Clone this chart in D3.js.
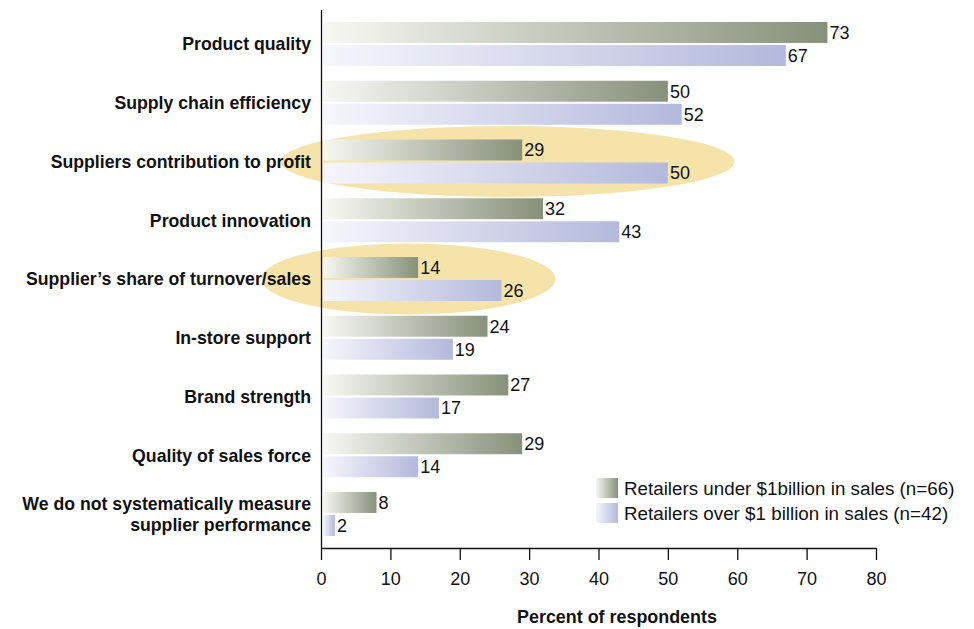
<!DOCTYPE html>
<html>
<head>
<meta charset="utf-8">
<script src="https://cdn.jsdelivr.net/npm/d3@7"></script>
<style>
  body { margin: 0; background: #fff; }
  svg text { font-family: "Liberation Sans", Arial, Helvetica, sans-serif; fill: #111; }
  .cat { font-weight: bold; font-size: 17.7px; }
  .val { font-size: 18px; }
  .legend text { font-size: 18.8px; }
  .axis-title { font-weight: bold; font-size: 17.9px; }
</style>
</head>
<body>
<div id="chart"></div>
<script>
/* ===== DATA ===== */
const categories = [
    "Product quality",
    "Supply chain efficiency",
    "Suppliers contribution to profit",
    "Product innovation",
    "Supplier\u2019s share of turnover/sales",
    "In-store support",
    "Brand strength",
    "Quality of sales force",
    "We do not systematically measure|supplier performance"
];
const seriesNames = [
    "Retailers under $1billion in sales (n=66)",
    "Retailers over $1 billion in sales (n=42)"
];
const underValues = [73, 50, 29, 32, 14, 24, 27, 29, 8];
const overValues = [67, 52, 50, 43, 26, 19, 17, 14, 2];
const xTicks = [0, 10, 20, 30, 40, 50, 60, 70, 80];

// highlighted rows and the horizontal extent of their ellipse, in axis units
const highlightCats = ["Suppliers contribution to profit", "Supplier\u2019s share of turnover/sales"];
const highlightFrom = [-5.8, -8.6];
const highlightTo = [59.6, 33.8];

const seriesColors = [
    { from: "#f8f8f3", to: "#86917a" },
    { from: "#f6f6fc", to: "#b3b9dc" }
];

/* ===== SVG ===== */
const width = 974, height = 629;
const svg = d3.select("#chart").append("svg")
    .attr("width", width)
    .attr("height", height);

const defs = svg.append("defs");
seriesColors.forEach((c, i) => {
    const g = defs.append("linearGradient")
        .attr("id", "grad" + i)
        .attr("x1", "0%").attr("x2", "100%")
        .attr("y1", "0%").attr("y2", "0%");
    g.append("stop").attr("offset", "0%").attr("stop-color", c.from);
    g.append("stop").attr("offset", "100%").attr("stop-color", c.to);
});

/* ===== SCALES ===== */
const x = d3.scaleLinear().domain([0, 80]).range([321, 876]);
const y = d3.scaleBand().domain(categories).range([22, 536]).paddingInner(0.251).paddingOuter(0);
const ySub = d3.scaleBand().domain([0, 1]).range([0, y.bandwidth()]).paddingInner(0.09);

const rows = categories.map((c, i) => ({ cat: c, vals: [underValues[i], overValues[i]] }));

/* ===== HIGHLIGHT ELLIPSES ===== */
svg.append("g").selectAll("ellipse")
    .data(highlightCats)
    .enter().append("ellipse")
    .attr("cx", (d, i) => (x(highlightFrom[i]) + x(highlightTo[i])) / 2)
    .attr("cy", d => y(d) + y.bandwidth() / 2)
    .attr("rx", (d, i) => (x(highlightTo[i]) - x(highlightFrom[i])) / 2)
    .attr("ry", 35.5)
    .attr("fill", "#f6e3a9");

/* ===== BARS ===== */
const group = svg.append("g").selectAll("g.row")
    .data(rows)
    .enter().append("g")
    .attr("class", "row")
    .attr("transform", d => `translate(0,${y(d.cat)})`);

group.selectAll("rect")
    .data(d => d.vals)
    .enter().append("rect")
    .attr("x", x(0) + 2)
    .attr("y", (d, i) => ySub(i))
    .attr("width", d => x(d) - x(0) - 2)
    .attr("height", ySub.bandwidth())
    .attr("fill", (d, i) => `url(#grad${i})`);

group.selectAll("text.val")
    .data(d => d.vals)
    .enter().append("text")
    .attr("class", "val")
    .attr("x", d => x(d) + 2)
    .attr("y", (d, i) => ySub(i) + ySub.bandwidth() / 2)
    .attr("dy", "0.36em")
    .text(d => d);

/* ===== CATEGORY LABELS ===== */
const catLabel = svg.append("g").selectAll("text.cat")
    .data(categories)
    .enter().append("text")
    .attr("class", "cat")
    .attr("text-anchor", "end")
    .attr("x", 311)
    .attr("y", d => y(d) + y.bandwidth() / 2);

catLabel.each(function (d) {
    const lines = d.split("|");
    const t = d3.select(this);
    lines.forEach((line, i) => {
        t.append("tspan")
            .attr("x", 311)
            .attr("dy", i === 0 ? (0.36 - (lines.length - 1) * 0.6) + "em" : "1.2em")
            .text(line);
    });
});

/* ===== AXES ===== */
svg.append("line")
    .attr("x1", x(0) + 0.5).attr("x2", x(0) + 0.5)
    .attr("y1", 10).attr("y2", 548)
    .attr("stroke", "#111").attr("stroke-width", 1.3);

const xAxis = svg.append("g")
    .attr("transform", "translate(0,548)")
    .call(d3.axisBottom(x).tickValues(xTicks).tickSize(12).tickPadding(12).tickSizeOuter(0));
xAxis.select(".domain").attr("stroke", "#111").attr("stroke-width", 1.3);
xAxis.selectAll(".tick line").attr("stroke", "#111").attr("stroke-width", 1.3);
xAxis.selectAll(".tick text")
    .attr("fill", "#111")
    .style("font-family", "\"Liberation Sans\", Arial, sans-serif")
    .style("font-size", "18px");

svg.append("text")
    .attr("class", "axis-title")
    .attr("x", 617)
    .attr("y", 623)
    .attr("text-anchor", "middle")
    .text("Percent of respondents");

/* ===== LEGEND ===== */
const legend = svg.append("g").attr("class", "legend")
    .attr("transform", "translate(596,478)");
const li = legend.selectAll("g")
    .data(seriesNames)
    .enter().append("g")
    .attr("transform", (d, i) => `translate(0,${i * 25})`);
li.append("rect")
    .attr("width", 22).attr("height", 20)
    .attr("fill", (d, i) => `url(#grad${i})`);
li.append("text")
    .attr("x", 28).attr("y", 10).attr("dy", "0.36em")
    .text(d => d);
</script>
</body>
</html>
